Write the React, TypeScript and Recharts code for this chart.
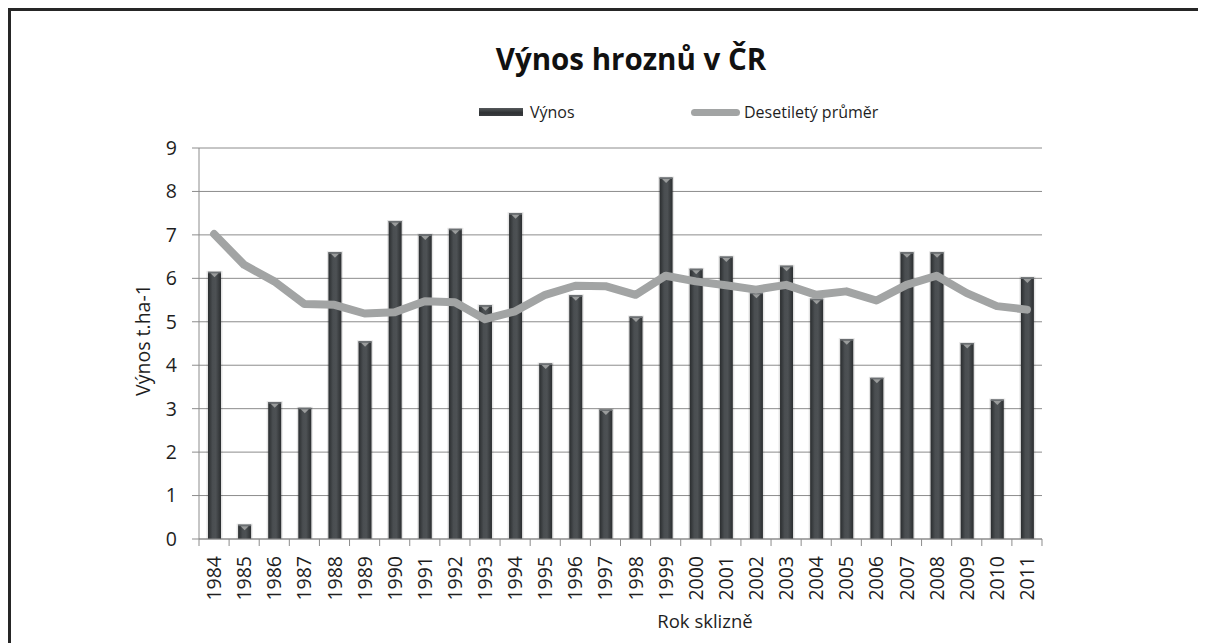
import React from 'react';
import { ComposedChart, Bar, Line, XAxis, YAxis, CartesianGrid } from 'recharts';

const years = ['1984','1985','1986','1987','1988','1989','1990','1991','1992','1993','1994','1995','1996','1997','1998','1999','2000','2001','2002','2003','2004','2005','2006','2007','2008','2009','2010','2011'];
const yieldValues = [6.15, 0.33, 3.15, 3.02, 6.6, 4.55, 7.32, 7.01, 7.14, 5.38, 7.5, 4.04, 5.61, 2.98, 5.12, 8.32, 6.22, 6.5, 5.67, 6.29, 5.53, 4.6, 3.71, 6.6, 6.6, 4.51, 3.21, 6.02];
const decadeAverage = [7.02, 6.31, 5.93, 5.41, 5.39, 5.19, 5.22, 5.47, 5.45, 5.06, 5.24, 5.62, 5.83, 5.82, 5.62, 6.06, 5.93, 5.84, 5.74, 5.85, 5.62, 5.7, 5.49, 5.85, 6.06, 5.66, 5.36, 5.28];
const yTicks = [0, 1, 2, 3, 4, 5, 6, 7, 8, 9];

const title = 'Výnos hroznů v ČR';
const barName = 'Výnos';
const lineName = 'Desetiletý průměr';
const xTitle = 'Rok sklizně';
const yTitle = 'Výnos t.ha-1';

const data = years.map((y, i) => ({ year: y, vynos: yieldValues[i], prumer: decadeAverage[i] }));

const FONT = '"Open Sans", "DejaVu Sans", sans-serif';
const TEXT = '#1e1e1e';
const GRID = '#8c8c8c';
const LINE = '#a2a4a4';
const CHART_W = 1198;
const CHART_H = 635;
const PLOT_LEFT = 191;
const PLOT_RIGHT_MARGIN = 164;
const BAND = (CHART_W - PLOT_LEFT - PLOT_RIGHT_MARGIN) / years.length;

const BarShape = (props: any) => {
  const { x, y, width, height } = props;
  if (height == null || height <= 0) return null;
  const cx = x + width / 2;
  return (
    <g>
      <rect x={x - 1.5} y={y - 1} width={width + 3} height={height + 1} fill="rgba(0,0,0,0.10)" />
      <rect x={x} y={y} width={width} height={height} fill="url(#barGrad)" />
      <rect x={x} y={y} width={width} height={1.5} fill="#6c7073" />
      <polygon points={`${cx - 4},${y + 1.5} ${cx + 4},${y + 1.5} ${cx},${y + 5.5}`} fill="#9a9c9c" />
    </g>
  );
};

const XTick = (props: any) => {
  const { x, y, payload, index } = props;
  const half = BAND / 2;
  return (
    <g transform={`translate(${x},${y})`}>
      <line x1={-half} y1={0} x2={-half} y2={7} stroke={GRID} strokeWidth={1} />
      {index === years.length - 1 && <line x1={half} y1={0} x2={half} y2={7} stroke={GRID} strokeWidth={1} />}
      <text
        transform="rotate(-90)"
        x={-17}
        y={0}
        dy="0.36em"
        textAnchor="end"
        fill={TEXT}
        fontSize={19.5}
        fontFamily={FONT}
      >
        {payload.value}
      </text>
    </g>
  );
};

export default function App() {
  return (
    <div style={{ position: 'relative', width: CHART_W, height: CHART_H }}>
      <style>{`html,body{overflow:hidden}`}</style>
      <div
        style={{
          position: 'absolute',
          left: 0,
          top: 0,
          width: CHART_W,
          height: CHART_H,
          borderLeft: '3px solid #262626',
          borderTop: '3px solid #262626',
          boxSizing: 'border-box',
        }}
      />
      <div
        style={{
          position: 'absolute',
          left: 0,
          width: 1246,
          top: 33,
          textAlign: 'center',
          fontFamily: '"Open Sans", Lato, sans-serif',
          fontWeight: 700,
          fontSize: 29.5,
          color: '#111',
          lineHeight: '36px',
        }}
      >
        {title}
      </div>
      <div style={{ position: 'absolute', left: 471, top: 93, height: 22, display: 'flex', alignItems: 'center', fontFamily: FONT, fontSize: 16, color: TEXT }}>
        <div style={{ width: 44, height: 8, background: 'linear-gradient(#55595c, #2e3133 60%, #3a3d40)', marginRight: 7 }} />
        <span>{barName}</span>
      </div>
      <div style={{ position: 'absolute', left: 683, top: 93, height: 22, display: 'flex', alignItems: 'center', fontFamily: FONT, fontSize: 16, color: TEXT }}>
        <div style={{ width: 49, height: 7, borderRadius: 4, background: LINE, marginRight: 4 }} />
        <span>{lineName}</span>
      </div>
      <div style={{ position: 'absolute', left: 0, top: 0 }}>
        <ComposedChart
          width={CHART_W}
          height={CHART_H}
          data={data}
          margin={{ top: 140, right: PLOT_RIGHT_MARGIN, bottom: 8, left: 0 }}
        >
          <defs>
            <linearGradient id="barGrad" x1="0" y1="0" x2="1" y2="0">
              <stop offset="0%" stopColor="#2a2d2f" />
              <stop offset="35%" stopColor="#4a4e51" />
              <stop offset="60%" stopColor="#4d5154" />
              <stop offset="100%" stopColor="#2b2e30" />
            </linearGradient>
          </defs>
          <CartesianGrid horizontal vertical={false} stroke={GRID} strokeWidth={1} />
          <XAxis
            dataKey="year"
            type="category"
            height={96}
            interval={0}
            tickSize={0}
            tickMargin={0}
            tickLine={false}
            axisLine={{ stroke: GRID }}
            tick={<XTick />}
            label={{
              content: () => (
                <text x={697} y={614} dy="0.35em" textAnchor="middle" fill={TEXT} fontSize={18.5} fontFamily={FONT}>
                  {xTitle}
                </text>
              ),
            }}
          />
          <YAxis
            type="number"
            domain={[0, 9]}
            ticks={yTicks}
            interval={0}
            width={PLOT_LEFT}
            tickSize={7}
            tickMargin={15}
            tickLine={{ stroke: GRID }}
            axisLine={{ stroke: GRID }}
            tick={{ fill: TEXT, fontSize: 19.5, fontFamily: FONT }}
            label={{
              content: () => (
                <text
                  x={135}
                  y={332}
                  transform="rotate(-90, 135, 332)"
                  dy="0.35em"
                  textAnchor="middle"
                  fill={TEXT}
                  fontSize={19.5}
                  fontFamily={FONT}
                >
                  {yTitle}
                </text>
              ),
            }}
          />
          <Bar dataKey="vynos" name={barName} barSize={13} shape={<BarShape />} isAnimationActive={false} />
          <Line
            dataKey="prumer"
            name={lineName}
            type="linear"
            stroke={LINE}
            strokeWidth={8}
            strokeLinejoin="round"
            strokeLinecap="round"
            dot={false}
            activeDot={false}
            isAnimationActive={false}
          />
        </ComposedChart>
      </div>
    </div>
  );
}
